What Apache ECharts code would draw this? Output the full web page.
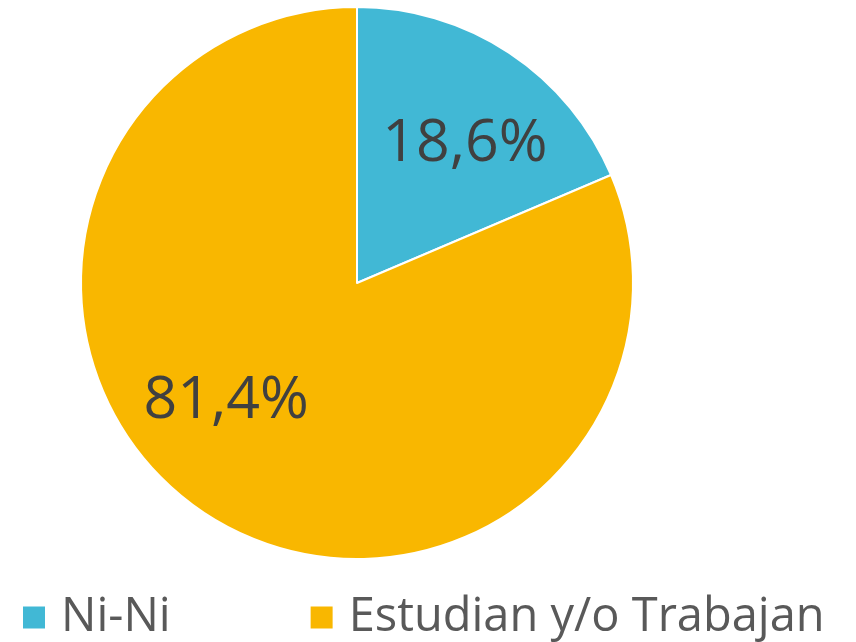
<!DOCTYPE html>
<html>
<head>
<meta charset="utf-8">
<script src="https://cdn.jsdelivr.net/npm/echarts@6/dist/echarts.min.js"></script>
<style>
html, body { margin: 0; padding: 0; background: #fff; }
#main { width: 856px; height: 642px; }
</style>
</head>
<body>
<div id="main"></div>
<script>
var categories = ['Ni-Ni', 'Estudian y/o Trabajan'];
var values = [18.6, 81.4];
var colors = ['#41B8D5', '#F9B700'];

var chartDom = document.getElementById('main');
var myChart = echarts.init(chartDom);
var option;

// label nudges, relative to the default inside position
var labelShift = [[30, -21], [-53, 1]];

option = {
    animation: false,
    legend: {
        data: categories,
        left: 16,
        top: 589,
        itemWidth: 24,
        itemHeight: 24,
        itemGap: 138,
        icon: 'rect',
        textStyle: {
            fontFamily: 'Open Sans',
            fontSize: 47,
            color: '#595959',
            padding: [0, 0, 0, 10]
        }
    },
    series: [
        {
            type: 'pie',
            center: [357, 283],
            radius: [0, 276],
            startAngle: 90,
            clockwise: true,
            data: categories.map(function (name, i) {
                return { name: name, value: values[i], itemStyle: { color: colors[i] } };
            }),
            itemStyle: {
                borderColor: '#fff',
                borderWidth: 2
            },
            label: {
                show: true,
                position: 'inside',
                formatter: function (p) {
                    return p.value.toFixed(1).replace('.', ',') + '%';
                },
                fontFamily: 'Open Sans',
                fontSize: 59,
                color: '#404040'
            },
            labelLayout: function (params) {
                var s = labelShift[params.dataIndex];
                return { dx: s[0], dy: s[1] };
            },
            labelLine: { show: false },
            emphasis: { disabled: true }
        }
    ]
};

option && myChart.setOption(option);
</script>
</body>
</html>
